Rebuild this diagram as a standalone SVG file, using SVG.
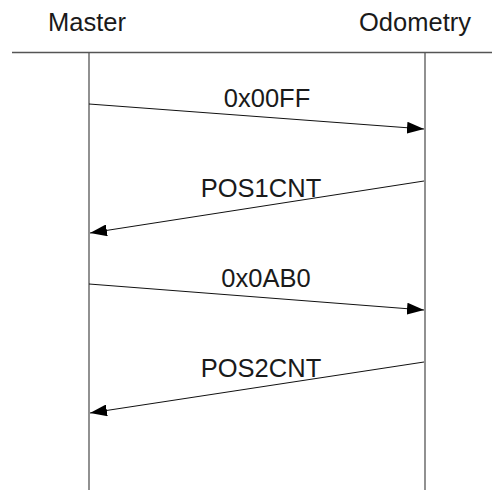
<svg xmlns="http://www.w3.org/2000/svg" width="492" height="490" viewBox="0 0 492 490">
<style>
text{font-family:"Liberation Sans",Arial,sans-serif;font-size:25.5px;fill:#1a1a1a}
.life{stroke:#555;stroke-width:1.3;fill:none}
.msg{stroke:#111;stroke-width:1;fill:none;marker-end:url(#ah)}
</style>
<defs>
<marker id="ah" markerUnits="userSpaceOnUse" markerWidth="18" markerHeight="12" refX="17" refY="6" orient="auto">
<path d="M0,0 L17,6 L0,12 z" fill="#000"/>
</marker>
</defs>
<rect width="492" height="490" fill="#fff"/>
<g id="master">
<text x="87" y="31" text-anchor="middle">Master</text>
<line class="life" x1="89" y1="53" x2="89" y2="490"/>
</g>
<g id="odometry">
<text x="415" y="31" text-anchor="middle">Odometry</text>
<line class="life" x1="425" y1="53" x2="425" y2="490"/>
</g>
<line id="header" x1="12" y1="52.5" x2="492" y2="52.5" stroke="#555" stroke-width="1.3"/>
<g id="connectors">
<line class="msg" x1="89" y1="104" x2="424" y2="129"/>
<line class="msg" x1="424" y1="181" x2="90" y2="233"/>
<line class="msg" x1="89" y1="284" x2="424" y2="310"/>
<line class="msg" x1="424" y1="362" x2="90" y2="413"/>
<text x="267" y="107" text-anchor="middle">0x00FF</text>
<text x="261" y="197" text-anchor="middle">POS1CNT</text>
<text x="266" y="287" text-anchor="middle">0x0AB0</text>
<text x="261" y="377" text-anchor="middle">POS2CNT</text>
</g>
</svg>
